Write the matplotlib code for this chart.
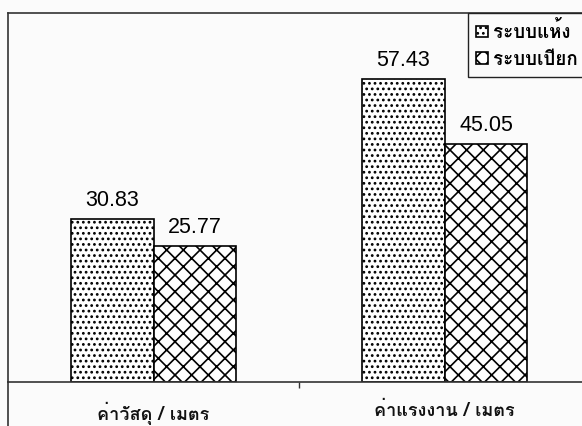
import matplotlib
matplotlib.use("Agg")
import matplotlib.pyplot as plt
from matplotlib import font_manager
from matplotlib.lines import Line2D
import numpy as np

categories = ["ค่าวัสดุ / เมตร", "ค่าแรงงาน / เมตร"]
series_names = ["ระบบแห้ง", "ระบบเปียก"]
dry_values = [30.83, 57.43]
wet_values = [25.77, 45.05]


def find_thai_family():
    """Return the name of an installed family that covers Thai script."""
    try:
        from fontTools.ttLib import TTFont
    except Exception:
        return None
    for entry in font_manager.fontManager.ttflist:
        try:
            kwargs = {"fontNumber": 0} if entry.fname.lower().endswith((".ttc", ".otc")) else {}
            tt = TTFont(entry.fname, lazy=True, **kwargs)
            cmap = tt.getBestCmap() or {}
            if 0x0E04 in cmap and 0x0E1A in cmap:
                return entry.name
        except Exception:
            continue
    return None


thai = find_thai_family()
thai_fam = [thai, "DejaVu Sans"] if thai else ["DejaVu Sans"]
num_fam = ["Liberation Sans", "DejaVu Sans"]

plt.rcParams["hatch.linewidth"] = 1.2
plt.rcParams["hatch.color"] = "black"

W, H = 582, 426
fig = plt.figure(figsize=(W / 100, H / 100), dpi=100)
bg = "#fbfbfb"
fig.patch.set_facecolor(bg)

left_px, top_px, axis_px = 8, 12.7, 382
ax = fig.add_axes([left_px / W, (H - axis_px) / H, 582 / W, (axis_px - top_px) / H])
ax.set_facecolor(bg)

x = np.arange(len(categories))
width = 0.285

dry = ax.bar(x - width / 2, dry_values, width, facecolor="white", edgecolor="black",
             hatch="...", linewidth=1.2, label=series_names[0])
wet = ax.bar(x + width / 2, wet_values, width, facecolor="white", edgecolor="black",
             hatch="xx", linewidth=1.2, label=series_names[1])

for bars, vals in ((dry, dry_values), (wet, wet_values)):
    for rect, v in zip(bars, vals):
        ax.annotate(f"{v:.2f}", (rect.get_x() + rect.get_width() / 2, v),
                    xytext=(0, 9.4), textcoords="offset points",
                    ha="center", va="baseline", fontsize=15.5,
                    family=num_fam, color="black")

ax.set_xlim(-0.5, 1.5)
ax.set_ylim(0, 70)
ax.set_yticks([])

# one tick between the two groups, category names as unticked labels
ax.set_xticks([0.5])
ax.set_xticklabels([""])
ax.tick_params(axis="x", which="major", direction="out", length=4, width=1, color="#333333")
ax.set_xticks(x, minor=True)
ax.set_xticklabels(categories, minor=True, family=thai_fam, fontsize=13,
                   fontweight="bold", color="#111111")
ax.tick_params(axis="x", which="minor", length=0, pad=14)

for side in ("left", "top", "bottom"):
    ax.spines[side].set_linewidth(1.2)
    ax.spines[side].set_color("#333333")
ax.spines["right"].set_visible(False)

# outer frame continues down the left edge below the category axis
fig.add_artist(Line2D([left_px / W, left_px / W], [(H - axis_px) / H, 0],
                      transform=fig.transFigure, color="#333333", linewidth=1.2))

leg = ax.legend(handles=[dry, wet], loc="upper left",
                bbox_to_anchor=(468 / W, 1 - top_px / H), bbox_transform=fig.transFigure,
                borderaxespad=0, frameon=True, fancybox=False, framealpha=1,
                edgecolor="#222222", handlelength=0.6, handleheight=0.6,
                handletextpad=0.3, labelspacing=0.45, borderpad=0.45,
                prop={"family": thai_fam, "size": 13.5, "weight": "bold"})
leg.get_frame().set_linewidth(1.0)
leg.get_frame().set_facecolor(bg)

fig.savefig("out.png", dpi=100, facecolor=fig.get_facecolor())
